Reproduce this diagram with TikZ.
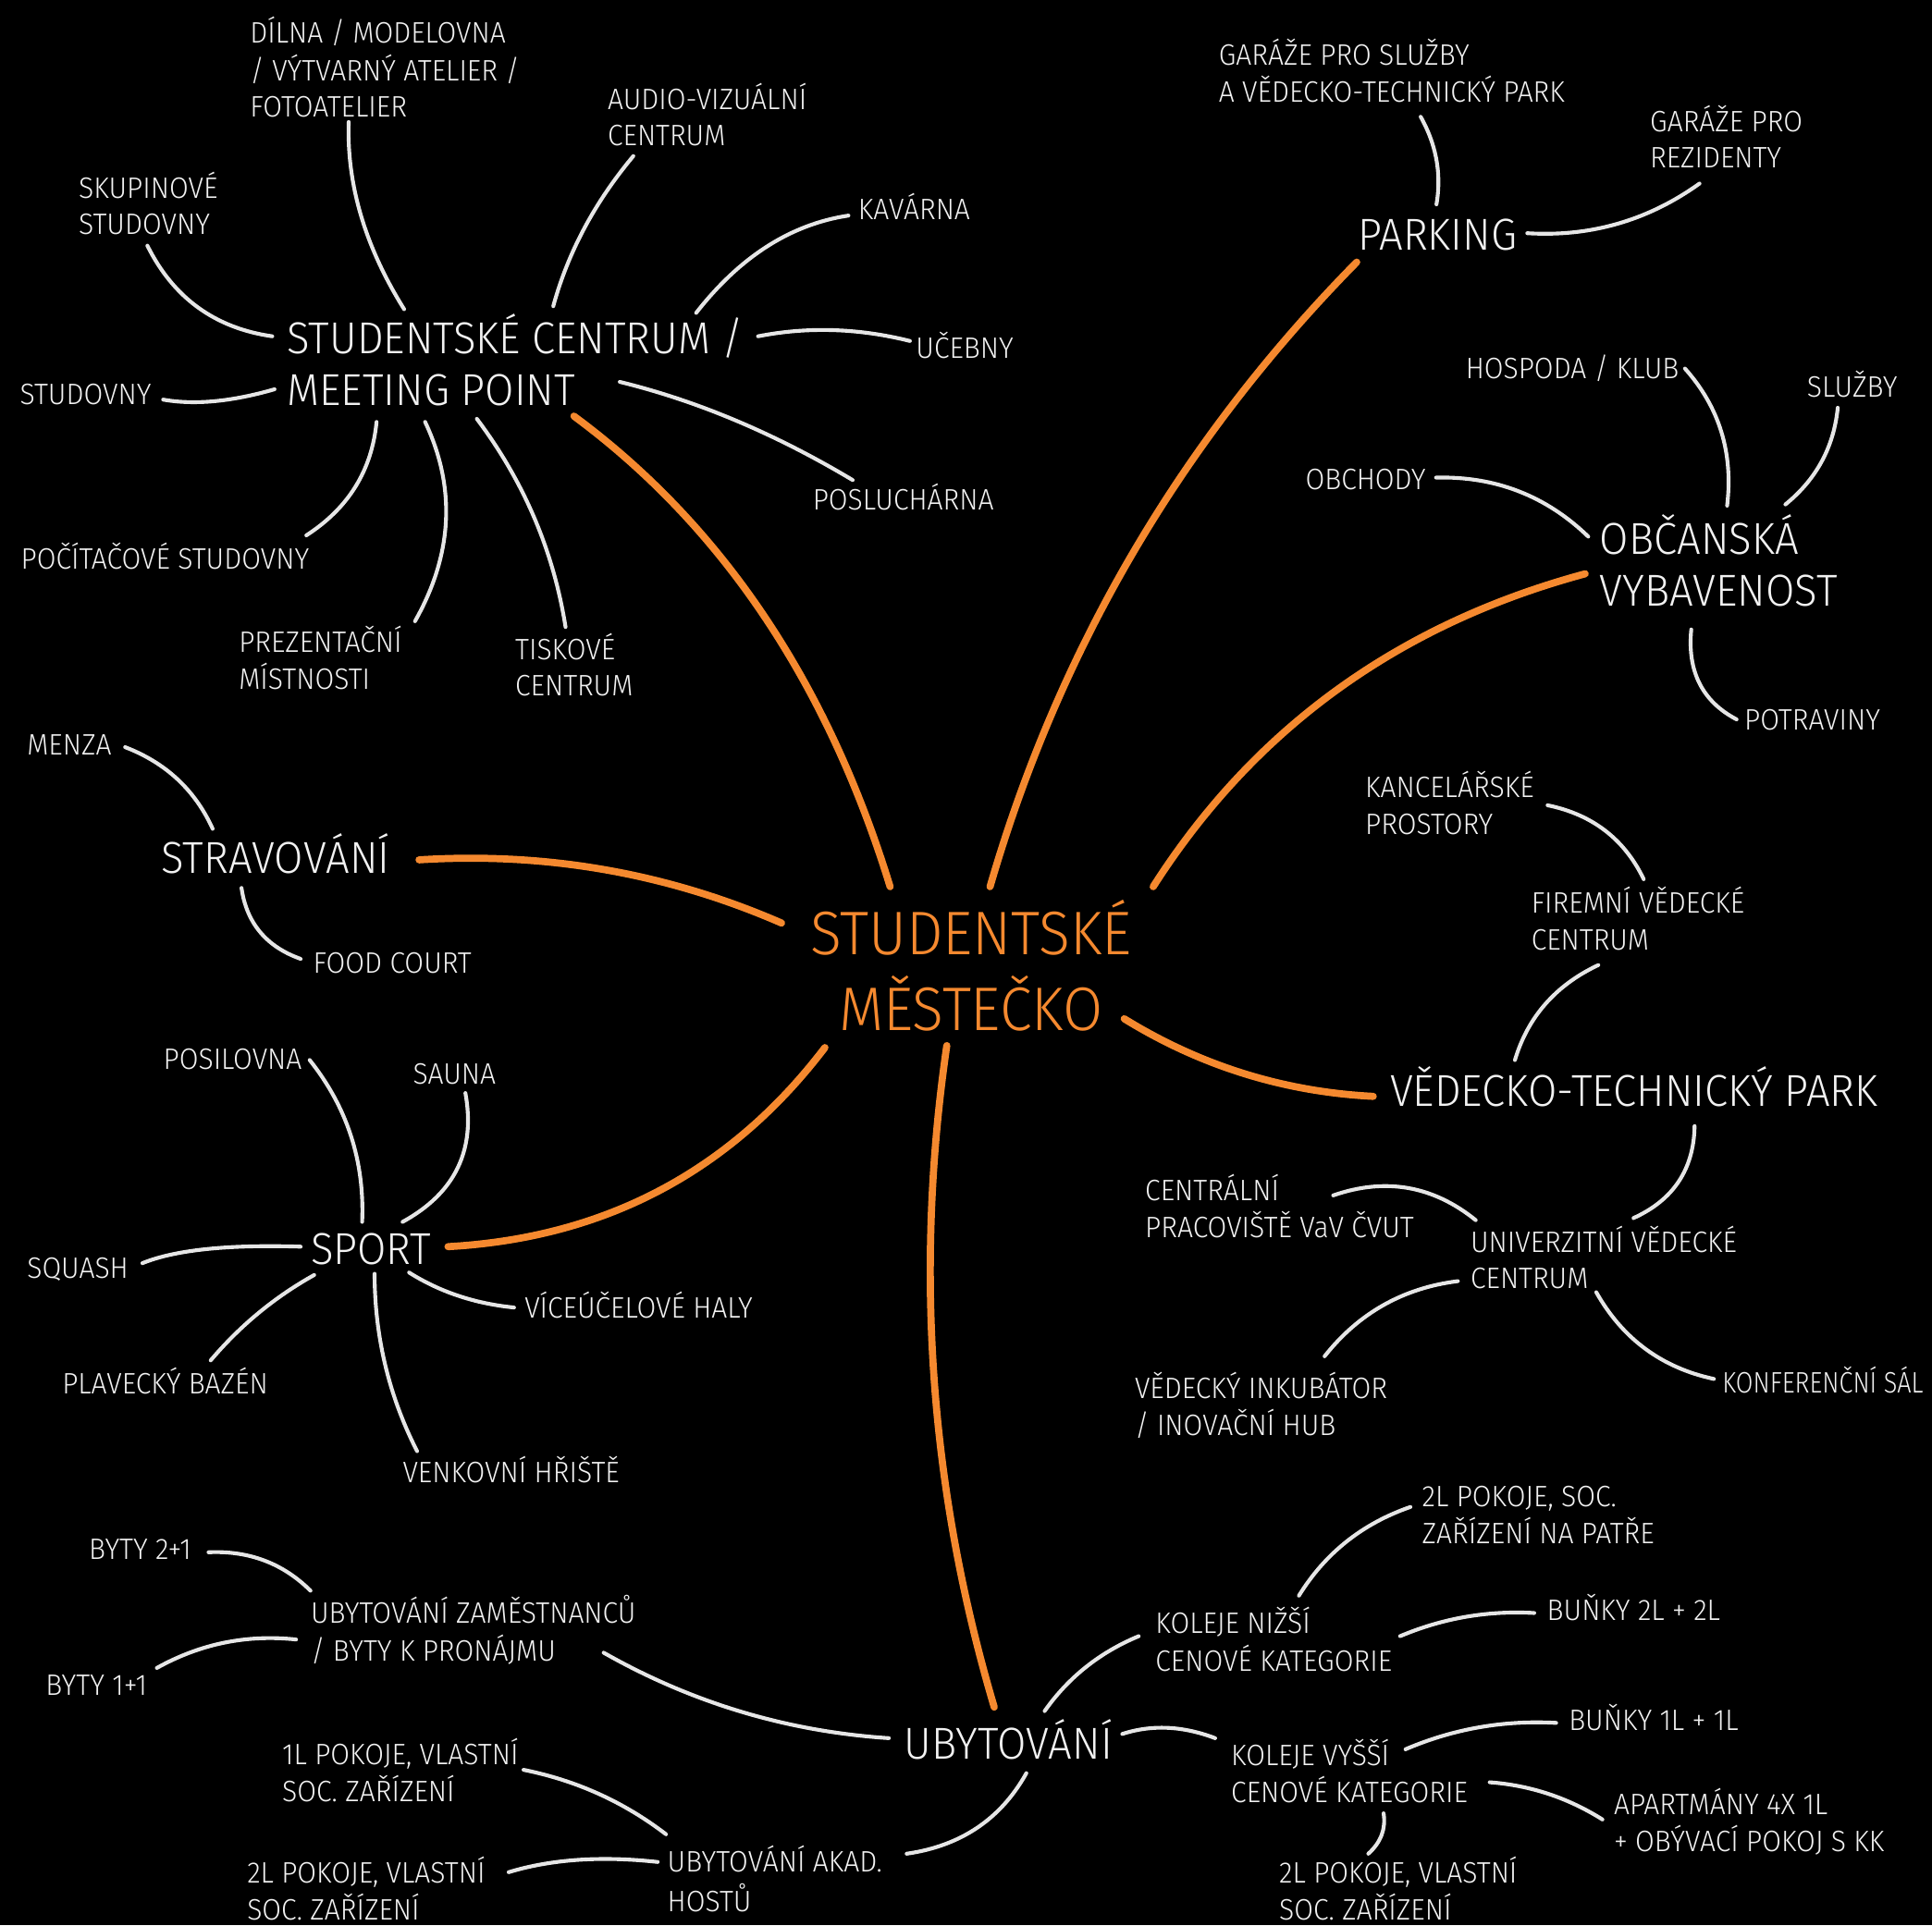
\documentclass[tikz,border=0pt]{standalone}
\usepackage{fontspec}
\usetikzlibrary{calc}
\setmainfont{Fira Sans Light}[FakeStretch=0.94]
\definecolor{fg}{HTML}{F2F2F2}
\definecolor{lc}{HTML}{E6E6E6}
\definecolor{og}{HTML}{F5892F}
\newcommand\ml[1]{\begin{tabular}[t]{@{}l@{}}#1\end{tabular}}
\newcommand\mlc[1]{\begin{tabular}[t]{@{}c@{}}#1\end{tabular}}
% connector: style, anchor A, position of A, start, control, anchor B, position of B, end
\newcommand\cn[8]{\draw[#1] ([shift={($(#4)-(#3)$)}]#2) .. controls ($(#5)+0.166667*(#4)-0.166667*(#8)$) and ($(#5)+0.166667*(#8)-0.166667*(#4)$) .. ([shift={($(#8)-(#7)$)}]#6);}
\tikzset{
 sm/.style={font=\fontsize{24}{29.5}\selectfont, text=fg, inner sep=0pt, anchor=base west},
 lg/.style={font=\fontsize{36.3}{42.5}\selectfont, text=fg, inner sep=0pt, anchor=base west},
 ctr/.style={font=\fontsize{50}{57}\selectfont, text=og, inner sep=0pt, anchor=base},
 wl/.style={draw=lc, line width=3.1pt, line cap=round},
 ol/.style={draw=og, line width=5.8pt, line cap=round},
}
\begin{document}
\begin{tikzpicture}[x=1pt,y=-1pt]
\fill[black] (0,0) rectangle (1568,1563);
\useasboundingbox (0,0) rectangle (1568,1563);
% nodes
\node[sm] (dilna) at (202.7,35.2) {\ml{DÍLNA / MODELOVNA\\/ VÝTVARNÝ ATELIER /\\FOTOATELIER}};
\node[sm] (skup) at (63.7,161) {\ml{SKUPINOVÉ\\STUDOVNY}};
\node[sm] (audio) at (493,88.8) {\ml{AUDIO-VIZUÁLNÍ\\CENTRUM}};
\node[sm] (kav) at (696.3,178.3) {KAVÁRNA};
\node[lg] (sc) at (232.9,287) {\ml{STUDENTSKÉ CENTRUM /\\MEETING POINT}};
\node[sm] (uceb) at (743.2,291) {UČEBNY};
\node[sm] (stud) at (16,328.4) {STUDOVNY};
\node[sm] (posl) at (659.4,414) {POSLUCHÁRNA};
\node[sm] (pocit) at (16.8,461.8) {POČÍTAČOVÉ STUDOVNY};
\node[sm] (prez) at (193.7,529.5) {\ml{PREZENTAČNÍ\\MÍSTNOSTI}};
\node[sm] (tisk) at (418,535.5) {\ml{TISKOVÉ\\CENTRUM}};
\node[sm] (garsl) at (989,53) {\ml{GARÁŽE PRO SLUŽBY\\A VĚDECKO-TECHNICKÝ PARK}};
\node[lg] (park) at (1101.8,202.7) {PARKING};
\node[sm] (garrez) at (1339,106.6) {\ml{GARÁŽE PRO\\REZIDENTY}};
\node[sm] (hosp) at (1189.3,307.3) {HOSPODA / KLUB};
\node[sm] (sluz) at (1466.4,322.4) {SLUŽBY};
\node[sm] (obch) at (1059.3,397.1) {OBCHODY};
\node[lg] (obc) at (1298.2,449.7) {\ml{OBČANSKÁ\\VYBAVENOST}};
\node[sm] (potr) at (1415.5,592.4) {POTRAVINY};
\node[sm] (kanc) at (1107.8,647.7) {\ml{KANCELÁŘSKÉ\\PROSTORY}};
\node[sm] (firem) at (1242.6,741.5) {\ml{FIREMNÍ VĚDECKÉ\\CENTRUM}};
\node[lg] (vtp) at (1128,898.4) {VĚDECKO-TECHNICKÝ PARK};
\node[sm] (centr) at (929.2,974.4) {\ml{CENTRÁLNÍ\\PRACOVIŠTĚ VaV ČVUT}};
\node[sm] (univ) at (1193.3,1016.3) {\ml{UNIVERZITNÍ VĚDECKÉ\\CENTRUM}};
\node[sm] (inkub) at (920.8,1135.2) {\ml{VĚDECKÝ INKUBÁTOR\\/ INOVAČNÍ HUB}};
\node[sm] (konf) at (1397.7,1131.1) {\scalebox{0.9}[1]{KONFERENČNÍ SÁL}};
\node[ctr] (mesto) at (788,775) {\mlc{STUDENTSKÉ\\MĚSTEČKO}};
\node[sm] (menza) at (21.8,612.5) {MENZA};
\node[lg] (strav) at (130.7,709) {STRAVOVÁNÍ};
\node[sm] (food) at (254,790) {FOOD COURT};
\node[sm] (posil) at (132.4,867.9) {POSILOVNA};
\node[sm] (sauna) at (335,880) {SAUNA};
\node[lg] (sport) at (252,1026.4) {SPORT};
\node[sm] (squash) at (21.8,1037.4) {SQUASH};
\node[sm] (vice) at (425.6,1069.8) {VÍCEÚČELOVÉ HALY};
\node[sm] (plav) at (50.3,1131.8) {PLAVECKÝ BAZÉN};
\node[sm] (venk) at (326.7,1203.2) {VENKOVNÍ HŘIŠTĚ};
\node[sm] (byty21) at (72,1265.8) {BYTY 2+1};
\node[sm] (ubzam) at (252,1318) {\ml{UBYTOVÁNÍ ZAMĚSTNANCŮ\\/ BYTY K PRONÁJMU}};
\node[sm] (byty11) at (36.9,1376.4) {BYTY 1+1};
\node[sm] (pokIl) at (228.9,1432.7) {\ml{1L POKOJE, VLASTNÍ\\SOC. ZAŘÍZENÍ}};
\node[sm] (pokIIl) at (200.4,1528.5) {\ml{2L POKOJE, VLASTNÍ\\SOC. ZAŘÍZENÍ}};
\node[sm] (akad) at (541.5,1519.9) {\ml{UBYTOVÁNÍ AKAD.\\HOSTŮ}};
\node[lg] (ubyt) at (733.8,1427.7) {UBYTOVÁNÍ};
\node[sm] (nizsi) at (937.6,1326.2) {\ml{KOLEJE NIŽŠÍ\\CENOVÉ KATEGORIE}};
\node[sm] (vyssi) at (999,1433.4) {\ml{KOLEJE VYŠŠÍ\\CENOVÉ KATEGORIE}};
\node[sm] (patre) at (1154,1223.3) {\ml{2L POKOJE, SOC.\\ZAŘÍZENÍ NA PATŘE}};
\node[sm] (bunII) at (1255.3,1315.4) {BUŇKY 2L + 2L};
\node[sm] (bunI) at (1273,1404.9) {BUŇKY 1L + 1L};
\node[sm] (apart) at (1309.6,1473) {\ml{APARTMÁNY 4X 1L\\+ OBÝVACÍ POKOJ S KK}};
\node[sm] (pokIIr) at (1038,1528.5) {\ml{2L POKOJE, VLASTNÍ\\SOC. ZAŘÍZENÍ}};
% orange connectors
\cn{ol}{mesto.base}{788,775}{722.4,719.8}{628.7,490.3}{sc.base west}{232.9,287}{465.8,337.8}
\cn{ol}{mesto.base}{788,775}{803.5,719.8}{909.2,441.9}{park.base west}{1101.8,202.7}{1101.1,212.8}
\cn{ol}{mesto.base}{788,775}{935.9,719.8}{1076.3,549.1}{obc.base west}{1298.2,449.7}{1286.5,465.8}
\cn{ol}{mesto.base}{788,775}{634.3,749.3}{491.9,700.1}{strav.base west}{130.7,709}{340.1,698}
\cn{ol}{mesto.base}{788,775}{912.4,827}{1008.2,875.8}{vtp.base west}{1128,898.4}{1114.5,890}
\cn{ol}{mesto.base}{788,775}{669.5,850.4}{541.9,978}{sport.base west}{252,1026.4}{363.6,1012}
\cn{ol}{mesto.base}{788,775}{768.4,848.8}{748.3,1120.5}{ubyt.base west}{733.8,1427.7}{806.9,1385.8}
% white connectors
\cn{wl}{sc.base west}{232.9,287}{328,251}{288.8,175}{dilna.base west}{202.7,35.2}{283,99}
\cn{wl}{sc.base west}{232.9,287}{221,273}{157.6,254.1}{skup.base west}{63.7,161}{119.6,199.4}
\cn{wl}{sc.base west}{232.9,287}{449,248.6}{471.8,184.5}{audio.base west}{493,88.8}{514,126.7}
\cn{wl}{sc.base west}{232.9,287}{565,254}{621.2,195.2}{kav.base west}{696.3,178.3}{688.6,175}
\cn{wl}{sc.base west}{232.9,287}{615.2,273}{676,265.7}{uceb.base west}{743.2,291}{738.5,276.8}
\cn{wl}{sc.base west}{232.9,287}{222.8,316}{172.8,327.5}{stud.base west}{16,328.4}{132.4,324.4}
\cn{wl}{sc.base west}{232.9,287}{503,310}{597.5,338.7}{posl.base west}{659.4,414}{692,389.7}
\cn{wl}{sc.base west}{232.9,287}{305.6,342.5}{292.3,397.2}{pocit.base west}{16.8,461.8}{248.6,434.6}
\cn{wl}{sc.base west}{232.9,287}{345,342.5}{368.9,422.9}{prez.base west}{193.7,529.5}{336.8,504.3}
\cn{wl}{sc.base west}{232.9,287}{387,340}{437.1,418.8}{tisk.base west}{418,535.5}{459,509}
\cn{wl}{park.base west}{1101.8,202.7}{1165.8,165.9}{1167.9,129.5}{garsl.base west}{989,53}{1153,94.8}
\cn{wl}{park.base west}{1101.8,202.7}{1239.5,189.3}{1314.1,185.75}{garrez.base west}{1339,106.6}{1379.3,149}
\cn{wl}{obc.base west}{1298.2,449.7}{1401.7,410.5}{1401.1,349}{hosp.base west}{1189.3,307.3}{1367.5,299.2}
\cn{wl}{obc.base west}{1298.2,449.7}{1449,409.5}{1481.25,376}{sluz.base west}{1466.4,322.4}{1491.5,331}
\cn{wl}{obc.base west}{1298.2,449.7}{1289,435.6}{1234.25,394.5}{obch.base west}{1059.3,397.1}{1165.5,387.7}
\cn{wl}{obc.base west}{1298.2,449.7}{1372.6,511}{1375.4,557.2}{potr.base west}{1415.5,592.4}{1409.4,584}
\cn{wl}{vtp.base west}{1128,898.4}{1229.5,860.5}{1251.3,812.55}{firem.base west}{1242.6,741.5}{1297.2,783.4}
\cn{wl}{firem.base west}{1242.6,741.5}{1334,713.7}{1305.4,671.2}{kanc.base west}{1107.8,647.7}{1256,653.7}
\cn{wl}{vtp.base west}{1128,898.4}{1375.3,914.1}{1366.4,961.65}{univ.base west}{1193.3,1016.3}{1325.7,988.8}
\cn{wl}{univ.base west}{1193.3,1016.3}{1197.7,990.5}{1143.65,959.05}{centr.base west}{929.2,974.4}{1082,970.4}
\cn{wl}{univ.base west}{1193.3,1016.3}{1183.2,1040}{1120.8,1055.7}{inkub.base west}{920.8,1135.2}{1075,1101}
\cn{wl}{univ.base west}{1193.3,1016.3}{1295.5,1049}{1332.8,1098.6}{konf.base west}{1397.7,1131.1}{1391,1119.4}
\cn{wl}{strav.base west}{130.7,709}{172.6,672.8}{146.45,630.25}{menza.base west}{21.8,612.5}{101.5,606.5}
\cn{wl}{strav.base west}{130.7,709}{196,720.8}{208.1,758.9}{food.base west}{254,790}{244,778.4}
\cn{wl}{sport.base west}{252,1026.4}{293.9,991.9}{288.9,920.7}{posil.base west}{132.4,867.9}{251.3,860.5}
\cn{wl}{sport.base west}{252,1026.4}{326.7,991.9}{377.7,951.2}{sauna.base west}{335,880}{377.7,887.3}
\cn{wl}{sport.base west}{252,1026.4}{244,1012}{163.5,1012.4}{squash.base west}{21.8,1037.4}{115.6,1025.4}
\cn{wl}{sport.base west}{252,1026.4}{255,1035}{209,1064.4}{plav.base west}{50.3,1131.8}{171,1104.3}
\cn{wl}{sport.base west}{252,1026.4}{304,1034}{309.85,1109.1}{venk.base west}{326.7,1203.2}{338.5,1178}
\cn{wl}{sport.base west}{252,1026.4}{332,1033}{371.2,1053.5}{vice.base west}{425.6,1069.8}{417.2,1061.4}
\cn{wl}{ubyt.base west}{733.8,1427.7}{721.4,1411}{600.4,1394}{ubzam.base west}{252,1318}{489.9,1341.6}
\cn{wl}{ubyt.base west}{733.8,1427.7}{833,1439.4}{796,1487.6}{akad.base west}{541.5,1519.9}{735.8,1504.8}
\cn{wl}{ubyt.base west}{733.8,1427.7}{847.8,1389}{879.9,1351.4}{nizsi.base west}{937.6,1326.2}{924.2,1328.2}
\cn{wl}{ubyt.base west}{733.8,1427.7}{910.8,1407.6}{947.3,1400.4}{vyssi.base west}{999,1433.4}{986.2,1411}
\cn{wl}{ubzam.base west}{252,1318}{252,1291.3}{215.8,1263.8}{byty21.base west}{72,1265.8}{169.2,1260.1}
\cn{wl}{ubzam.base west}{252,1318}{240.3,1330.9}{181.4,1330.5}{byty11.base west}{36.9,1376.4}{127.3,1354}
\cn{wl}{akad.base west}{541.5,1519.9}{540.5,1489}{487,1454}{pokIl.base west}{228.9,1432.7}{424.9,1436.7}
\cn{wl}{akad.base west}{541.5,1519.9}{533.8,1511.5}{467.7,1507.85}{pokIIl.base west}{200.4,1528.5}{412.8,1519.8}
\cn{wl}{nizsi.base west}{937.6,1326.2}{1054.2,1295.3}{1090.6,1248.8}{patre.base west}{1154,1223.3}{1144.7,1223.3}
\cn{wl}{nizsi.base west}{937.6,1326.2}{1136.3,1328.2}{1189.2,1310.4}{bunII.base west}{1255.3,1315.4}{1245.2,1309.4}
\cn{wl}{vyssi.base west}{999,1433.4}{1140.7,1420}{1200,1399.8}{bunI.base west}{1273,1404.9}{1263,1398.6}
\cn{wl}{vyssi.base west}{999,1433.4}{1209,1446.8}{1257.2,1454.3}{apart.base west}{1309.6,1473}{1300.5,1477}
\cn{wl}{vyssi.base west}{999,1433.4}{1122.9,1472}{1122.8,1490.1}{pokIIr.base west}{1038,1528.5}{1110.5,1504.8}
\end{tikzpicture}
\end{document}
